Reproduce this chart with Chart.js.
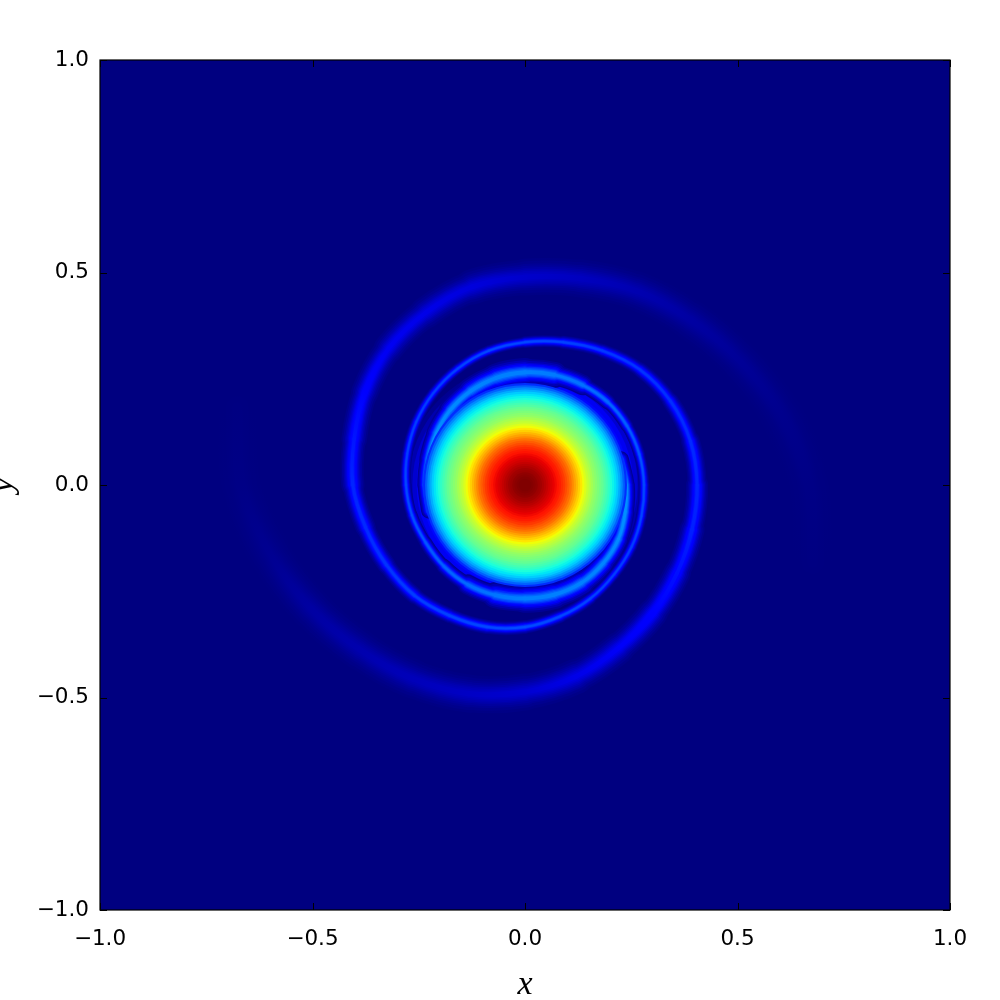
<!DOCTYPE html>
<html>
<head>
<meta charset="utf-8">
<title>Spiral density</title>
<script src="https://cdn.jsdelivr.net/npm/chart.js@4/dist/chart.umd.min.js"></script>
<style>
  html, body { margin: 0; padding: 0; background: #fff; }
  #wrap { width: 1000px; height: 1000px; }
</style>
</head>
<body>
<div id="wrap"><canvas id="plot" width="1000" height="1000"></canvas></div>
<script>
const xTickValues = [-1, -0.5, 0, 0.5, 1];
const yTickValues = [-1, -0.5, 0, 0.5, 1];
const xTickLabels = ['\u22121.0', '\u22120.5', '0.0', '0.5', '1.0'];
const yTickLabels = ['\u22121.0', '\u22120.5', '0.0', '0.5', '1.0'];

// central blob: radius (axis units) and level read along a radial cut
const coreRadius = [0.24, 0.235, 0.23, 0.225, 0.22, 0.215, 0.21, 0.205, 0.2, 0.195, 0.19, 0.185, 0.18, 0.175, 0.17, 0.165, 0.16, 0.155, 0.15, 0.145, 0.14, 0.135, 0.13, 0.125, 0.12, 0.115, 0.11, 0.105, 0.1, 0.095, 0.09, 0.085, 0.08, 0.075, 0.07, 0.065, 0.06, 0.055, 0.05, 0.045, 0.04, 0.035, 0.03, 0.025, 0.02, 0.015, 0.01, 0.005];
const coreLevel = [0.17, 0.22, 0.26, 0.295, 0.325, 0.35, 0.365, 0.385, 0.41, 0.43, 0.45, 0.47, 0.485, 0.5, 0.515, 0.53, 0.55, 0.57, 0.59, 0.615, 0.64, 0.665, 0.69, 0.715, 0.74, 0.765, 0.79, 0.81, 0.83, 0.85, 0.865, 0.88, 0.89, 0.9, 0.91, 0.92, 0.93, 0.94, 0.95, 0.96, 0.97, 0.975, 0.985, 0.99, 0.995, 1, 1, 1];
// faint skirt around the blob, under the arms
const skirtRadius = [0.285, 0.275, 0.265, 0.255, 0.245];
const skirtLevel = [0.015, 0.04, 0.07, 0.1, 0.13];

// arm that starts faint on the right, passes over the top and winds inward
const armBx = [0.677, 0.668, 0.605, 0.505, 0.389, 0.264, 0.13, 0, -0.125, -0.234, -0.321, -0.377, -0.402, -0.405, -0.375, -0.326, -0.26, -0.178, -0.089, 0, 0.083, 0.154, 0.21, 0.251, 0.274, 0.28, 0.269, 0.24, 0.195, 0.136, 0.069, 0, -0.068, -0.128, -0.176, -0.209, -0.227, -0.233, -0.225];
const armBy = [-0.182, 0, 0.162, 0.292, 0.389, 0.456, 0.486, 0.489, 0.466, 0.405, 0.321, 0.218, 0.108, 0, -0.1, -0.188, -0.26, -0.307, -0.334, -0.334, -0.309, -0.267, -0.21, -0.145, -0.073, 0, 0.072, 0.139, 0.195, 0.235, 0.259, 0.265, 0.252, 0.221, 0.176, 0.121, 0.061, 0, -0.06];
const armBlevel = [0.002, 0.006, 0.012, 0.02, 0.03, 0.042, 0.055, 0.065, 0.08, 0.09, 0.1, 0.12, 0.145, 0.16, 0.165, 0.175, 0.185, 0.19, 0.195, 0.2, 0.195, 0.19, 0.185, 0.185, 0.19, 0.195, 0.205, 0.215, 0.225, 0.235, 0.245, 0.25, 0.25, 0.255, 0.26, 0.265, 0.27, 0.27, 0.25];
const armBspread = [0.038, 0.038, 0.035, 0.035, 0.033, 0.033, 0.031, 0.031, 0.028, 0.026, 0.024, 0.022, 0.021, 0.018, 0.016, 0.015, 0.013, 0.012, 0.012, 0.011, 0.011, 0.009, 0.009, 0.009, 0.009, 0.009, 0.009, 0.01, 0.011, 0.014, 0.02, 0.024, 0.024, 0.02, 0.018, 0.016, 0.015, 0.014, 0.014];

// arm that starts faint on the left, passes under the bottom and winds inward
const armAx = [-0.677, -0.668, -0.6, -0.503, -0.388, -0.264, -0.131, 0, 0.121, 0.221, 0.301, 0.358, 0.393, 0.405, 0.389, 0.342, 0.271, 0.182, 0.09, 0, -0.085, -0.158, -0.216, -0.256, -0.277, -0.28, -0.266, -0.234, -0.191, -0.135, -0.07, 0, 0.069, 0.133, 0.184, 0.22, 0.236, 0.238, 0.225];
const armAy = [0.182, 0, -0.161, -0.291, -0.388, -0.456, -0.491, -0.487, -0.45, -0.383, -0.301, -0.207, -0.105, 0, 0.104, 0.198, 0.271, 0.316, 0.336, 0.336, 0.316, 0.274, 0.216, 0.148, 0.074, 0, -0.071, -0.135, -0.191, -0.234, -0.259, -0.267, -0.258, -0.23, -0.184, -0.127, -0.063, 0, 0.06];
const armAlevel = [0.002, 0.006, 0.015, 0.03, 0.04, 0.05, 0.06, 0.07, 0.09, 0.105, 0.125, 0.14, 0.155, 0.16, 0.165, 0.17, 0.175, 0.18, 0.19, 0.195, 0.195, 0.19, 0.185, 0.185, 0.185, 0.195, 0.2, 0.21, 0.22, 0.23, 0.24, 0.25, 0.25, 0.25, 0.255, 0.26, 0.265, 0.27, 0.25];
const armAspread = [0.038, 0.038, 0.035, 0.035, 0.033, 0.033, 0.031, 0.031, 0.028, 0.026, 0.024, 0.022, 0.02, 0.017, 0.015, 0.013, 0.012, 0.011, 0.011, 0.009, 0.009, 0.009, 0.009, 0.009, 0.009, 0.009, 0.009, 0.01, 0.011, 0.014, 0.02, 0.024, 0.024, 0.02, 0.018, 0.016, 0.015, 0.014, 0.014];

// cross section of an arm, widest and dimmest first
const haloWidth = [2.8, 2.4, 2.0, 1.7, 1.4, 1.15, 0.9, 0.65, 0.4];
const haloLevel = [0.08, 0.18, 0.3, 0.42, 0.55, 0.68, 0.8, 0.9, 1];

// jet colormap
function jet(v) {
  const ramp = (pts) => {
    for (let i = 1; i < pts.length; i++) {
      if (v <= pts[i][0]) {
        const t = (v - pts[i - 1][0]) / (pts[i][0] - pts[i - 1][0]);
        return Math.round(255 * (pts[i - 1][1] + t * (pts[i][1] - pts[i - 1][1])));
      }
    }
    return Math.round(255 * pts[pts.length - 1][1]);
  };
  const r = ramp([[0, 0], [0.35, 0], [0.66, 1], [0.89, 1], [1, 0.5]]);
  const g = ramp([[0, 0], [0.125, 0], [0.375, 1], [0.64, 1], [0.91, 0], [1, 0]]);
  const b = ramp([[0, 0.5], [0.11, 1], [0.34, 1], [0.65, 0], [1, 0]]);
  return 'rgb(' + r + ',' + g + ',' + b + ')';
}

function unitsToPixels(chart, units) {
  const x = chart.scales.x;
  return Math.abs(x.getPixelForValue(units) - x.getPixelForValue(0));
}

function armLayer(xs, ys, levels, spreads, width, level) {
  return {
    type: 'scatter',
    showLine: true,
    data: xs.map((x, i) => ({ x: x, y: ys[i] })),
    tension: 0.33,
    pointRadius: 0,
    borderCapStyle: 'round',
    borderColor: jet(0),
    segment: {
      borderColor: (c) => {
        const g = c.chart.ctx.createLinearGradient(c.p0.x, c.p0.y, c.p1.x, c.p1.y);
        g.addColorStop(0, jet(levels[c.p0DataIndex] * level));
        g.addColorStop(1, jet(levels[c.p1DataIndex] * level));
        return g;
      },
      borderWidth: (c) => width * unitsToPixels(c.chart, (spreads[c.p0DataIndex] + spreads[c.p1DataIndex]) / 2)
    }
  };
}

function discLayer(radii, levels) {
  return {
    type: 'scatter',
    showLine: false,
    data: radii.map(() => ({ x: 0, y: 0 })),
    pointBackgroundColor: levels.map((v) => jet(v)),
    pointBorderWidth: 0,
    pointRadius: (c) => unitsToPixels(c.chart, radii[c.dataIndex])
  };
}

const datasets = [discLayer(skirtRadius, skirtLevel)];
haloWidth.forEach((w, i) => {
  datasets.push(armLayer(armAx, armAy, armAlevel, armAspread, w, haloLevel[i]));
  datasets.push(armLayer(armBx, armBy, armBlevel, armBspread, w, haloLevel[i]));
});
datasets.push(discLayer(coreRadius, coreLevel));
// later entries paint on top
datasets.forEach((d, i) => { d.order = -i; });

const frame = {
  id: 'frame',
  beforeDatasetsDraw(chart) {
    const a = chart.chartArea, ctx = chart.ctx;
    ctx.save();
    ctx.fillStyle = jet(0);
    ctx.fillRect(a.left, a.top, a.right - a.left, a.bottom - a.top);
    ctx.restore();
  },
  afterDatasetsDraw(chart) {
    const a = chart.chartArea, ctx = chart.ctx;
    ctx.save();
    ctx.strokeStyle = '#000';
    ctx.lineWidth = 1;
    ctx.beginPath();
    xTickValues.forEach((v) => {
      const px = Math.round(chart.scales.x.getPixelForValue(v)) + 0.5;
      ctx.moveTo(px, a.bottom); ctx.lineTo(px, a.bottom - 7);
      ctx.moveTo(px, a.top); ctx.lineTo(px, a.top + 7);
    });
    yTickValues.forEach((v) => {
      const py = Math.round(chart.scales.y.getPixelForValue(v)) + 0.5;
      ctx.moveTo(a.left, py); ctx.lineTo(a.left + 7, py);
      ctx.moveTo(a.right, py); ctx.lineTo(a.right - 7, py);
    });
    ctx.stroke();
    ctx.lineWidth = 1.2;
    ctx.strokeRect(a.left, a.top, a.right - a.left, a.bottom - a.top);
    ctx.restore();
  }
};

const tickFont = { family: '"DejaVu Sans"', size: 21.5 };
const titleFont = { family: '"Liberation Serif"', style: 'italic', size: 34 };

new Chart(document.getElementById('plot'), {
  type: 'scatter',
  data: { datasets: datasets },
  plugins: [frame],
  options: {
    responsive: false,
    animation: false,
    events: [],
    layout: { padding: { left: 0, right: 50, top: 60, bottom: 0 } },
    plugins: { legend: { display: false }, tooltip: { enabled: false } },
    scales: {
      x: {
        type: 'linear',
        min: -1,
        max: 1,
        afterBuildTicks: (s) => { s.ticks = xTickValues.map((v) => ({ value: v })); },
        afterFit: (s) => { s.height = 90; },
        grid: { display: false },
        border: { display: false },
        ticks: {
          color: '#000',
          font: tickFont,
          padding: 9,
          maxRotation: 0,
          autoSkip: false,
          callback: (v, i) => xTickLabels[i]
        },
        title: { display: true, text: 'x', color: '#000', font: titleFont, padding: { top: 0, bottom: -5 } }
      },
      y: {
        type: 'linear',
        min: -1,
        max: 1,
        afterBuildTicks: (s) => { s.ticks = yTickValues.map((v) => ({ value: v })); },
        afterFit: (s) => { s.width = 100; },
        grid: { display: false },
        border: { display: false },
        ticks: {
          color: '#000',
          font: tickFont,
          padding: 3,
          autoSkip: false,
          callback: (v, i) => yTickLabels[i]
        },
        title: { display: true, text: 'y', color: '#000', font: titleFont, padding: { top: -17, bottom: 0 } }
      }
    }
  }
});
</script>
</body>
</html>
